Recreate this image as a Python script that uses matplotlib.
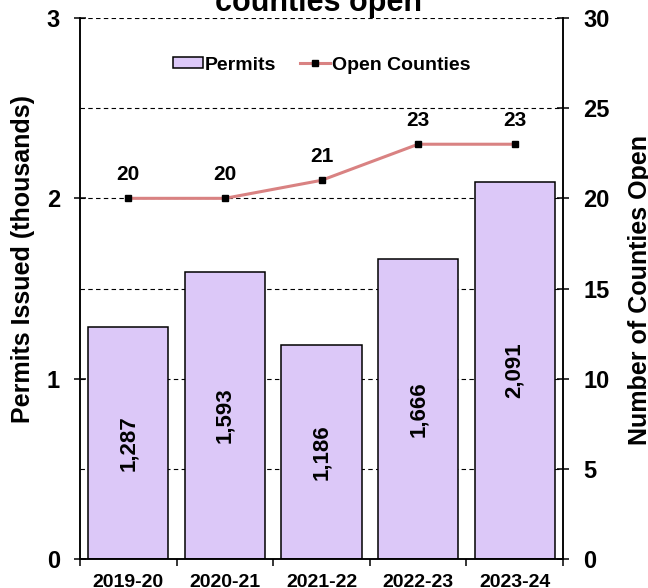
import matplotlib
matplotlib.use('Agg')
import matplotlib.pyplot as plt
from matplotlib.ticker import MultipleLocator, FixedLocator, NullFormatter

plt.rcParams['font.family'] = ['Liberation Sans', 'DejaVu Sans']
plt.rcParams['font.weight'] = 'bold'

years = ['2019-20', '2020-21', '2021-22', '2022-23', '2023-24']
permits = [1287, 1593, 1186, 1666, 2091]
open_counties = [20, 20, 21, 23, 23]

BAR_COLOR = '#DCC8F8'
LINE_COLOR = '#D98282'

fig = plt.figure(figsize=(6.48, 5.88), dpi=100)
ax = fig.add_axes([0.1235, 0.0493, 0.7454, 0.9201])
ax2 = ax.twinx()

x = list(range(len(years)))
permits_k = [p / 1000 for p in permits]

bars = ax.bar(x, permits_k, width=0.83, color=BAR_COLOR, edgecolor='black',
              linewidth=1.1, label='Permits', zorder=2)
for xi, p, pk in zip(x, permits, permits_k):
    ax.text(xi, pk / 2, f'{p:,}', rotation=90, ha='center', va='center',
            fontsize=16, fontweight='bold', zorder=3)

line, = ax2.plot(x, open_counties, color=LINE_COLOR, linewidth=2.2,
                 marker='s', markersize=5, markerfacecolor='black',
                 markeredgecolor='black', label='Open Counties', zorder=3)
for xi, c in zip(x, open_counties):
    ax2.annotate(str(c), (xi, c), xytext=(0, 10), textcoords='offset points',
                 ha='center', va='bottom', fontsize=15, fontweight='bold')

# axes ranges
ax.set_xlim(-0.5, len(years) - 0.5)
ax.set_ylim(0, 3)
ax2.set_ylim(0, 30)

# left axis ticks
ax.yaxis.set_major_locator(MultipleLocator(1))
ax.yaxis.set_minor_locator(MultipleLocator(0.5))
ax.tick_params(axis='y', which='major', direction='inout', length=9, width=1.1,
               labelsize=17, pad=10)
ax.tick_params(axis='y', which='minor', length=0)
ax.yaxis.grid(True, which='both', linestyle=(0, (4, 3)), color='black',
              linewidth=0.8)
ax.set_axisbelow(True)

# right axis ticks
ax2.yaxis.set_major_locator(MultipleLocator(5))
ax2.tick_params(axis='y', direction='inout', length=9, width=1.1,
                labelsize=17, pad=10)

# x ticks at category boundaries, labels at centres
ax.xaxis.set_major_locator(FixedLocator([i - 0.5 for i in range(len(years) + 1)]))
ax.xaxis.set_major_formatter(NullFormatter())
ax.xaxis.set_minor_locator(FixedLocator(x))
ax.set_xticklabels(years, minor=True)
ax.tick_params(axis='x', which='major', direction='out', length=5, width=1.1)
ax.tick_params(axis='x', which='minor', length=0, labelsize=14, pad=11)

for a in (ax, ax2):
    a.spines['top'].set_visible(False)
    for s in ('left', 'right', 'bottom'):
        a.spines[s].set_linewidth(1.1)

ax.set_ylabel('Permits Issued (thousands)', fontsize=18, fontweight='bold')
ax.yaxis.set_label_coords(-0.093, 0.555)
ax2.set_ylabel('Number of Counties Open', fontsize=18, fontweight='bold')
ax2.yaxis.set_label_coords(1.135, 0.497)

ax2.legend([bars, line], ['Permits', 'Open Counties'], loc='center',
           bbox_to_anchor=(0.5, 0.913), ncol=2, frameon=False, fontsize=14,
           handlelength=1.55, handleheight=0.45, handletextpad=0.1,
           columnspacing=1.2)

# title is cut off at the top of the picture, only its last line shows
fig.text(0.492, 0.982, 'counties open', ha='center', va='baseline',
         fontsize=22, fontweight='bold')

fig.savefig('out.png', dpi=100)
